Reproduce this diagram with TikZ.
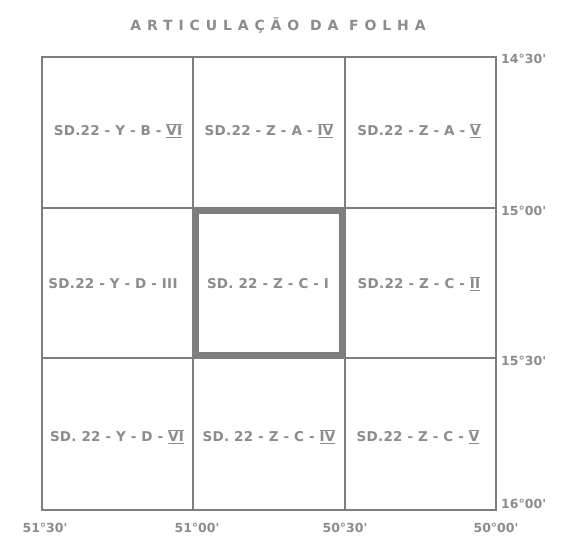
\documentclass[tikz,border=0pt]{standalone}
\usepackage{fontspec}
\setmainfont{DejaVu Sans}
\newfontfamily\lblfont[LetterSpace=2]{DejaVu Sans}
\newfontfamily\ttlfont[LetterSpace=42]{DejaVu Sans}
\newfontfamily\degfont[LetterSpace=0]{DejaVu Sans}
\newcommand{\rmn}[1]{\ensuremath{\overline{\underline{\mbox{\lblfont\bfseries #1}}}}}
\definecolor{inkgray}{HTML}{7E7E7E}
\definecolor{txtgray}{HTML}{8C8C8C}
\begin{document}
\begin{tikzpicture}[x=1pt,y=-1pt,
  gridline/.style={draw=inkgray,line width=1.3pt},
  heavy/.style={draw=inkgray,line width=6pt},
  cell/.style={text=txtgray,font=\lblfont\bfseries\fontsize{13.5}{14}\selectfont,inner sep=0pt},
  deg/.style={text=txtgray,font=\degfont\bfseries\fontsize{12.5}{13}\selectfont,inner sep=0pt},
  ttl/.style={text=txtgray,font=\ttlfont\bfseries\fontsize{14}{14}\selectfont,inner sep=0pt}]
\useasboundingbox (0,0) rectangle (571,557);
\fill[white] (0,0) rectangle (571,557);
% heavy frame of the central sheet (inside the cell)
\node[heavy,minimum width=146pt,minimum height=144pt,inner sep=0pt] (center) at (269,283) {};
% grid
\coordinate (tl) at (42,57);
\coordinate (br) at (496,510);
\draw[gridline] (tl) rectangle (br);
\draw[gridline] (193,57) -- (193,510);
\draw[gridline] (345,57) -- (345,510);
\draw[gridline] (42,208) -- (496,208);
\draw[gridline] (42,358) -- (496,358);
% title
\node[ttl] (title) at (278,25) {ARTICULAÇÃO DA FOLHA};
% cell labels
\node[cell] (c11) at (118,131) {SD.22 - Y - B - \rmn{VI}};
\node[cell] (c12) at (269,131) {SD.22 - Z - A - \rmn{IV}};
\node[cell] (c13) at (419,131) {SD.22 - Z - A - \rmn{V}};
\node[cell] (c21) at (113,284) {SD.22 - Y - D - III};
\node[cell] (c22) at (268,284) {SD. 22 - Z - C - I};
\node[cell] (c23) at (419,284) {SD.22 - Z - C - \rmn{II}};
\node[cell] (c31) at (117,437) {SD. 22 - Y - D - \rmn{VI}};
\node[cell] (c32) at (269,437) {SD. 22 - Z - C - \rmn{IV}};
\node[cell] (c33) at (418,437) {SD.22 - Z - C - \rmn{V}};
% degree labels right
\node[deg,anchor=west] (r1) at (501,59) {14°30'};
\node[deg,anchor=west] (r2) at (501,211) {15°00'};
\node[deg,anchor=west] (r3) at (501,361) {15°30'};
\node[deg,anchor=west] (r4) at (501,504) {16°00'};
% degree labels bottom
\node[deg] (b1) at (45,528) {51°30'};
\node[deg] (b2) at (197,528) {51°00'};
\node[deg] (b3) at (345,528) {50°30'};
\node[deg] (b4) at (496,528) {50°00'};
\end{tikzpicture}
\end{document}
